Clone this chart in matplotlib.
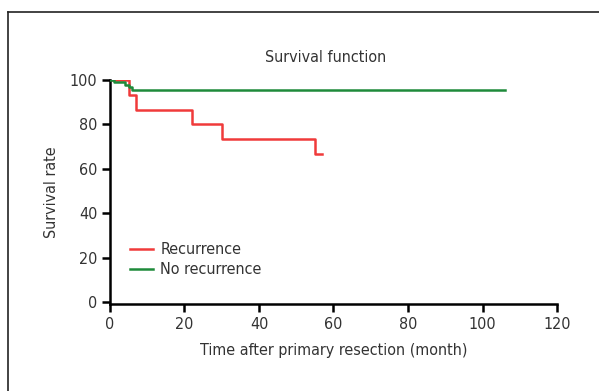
import matplotlib
matplotlib.use('Agg')
import matplotlib.pyplot as plt
from matplotlib.lines import Line2D

plt.rcParams['font.family'] = ['DejaVu Sans']
plt.rcParams['font.stretch'] = 'condensed'

# Kaplan-Meier style steps
rec_time = [0, 5, 7, 22, 30, 55, 57]
rec_surv = [100, 93.3, 86.7, 80, 73.3, 66.7, 66.7]
norec_time = [0, 1, 4, 5, 6, 106]
norec_surv = [100, 98.9, 97.8, 96.7, 95.6, 95.6]

x_ticks = [0, 20, 40, 60, 80, 100, 120]
y_ticks = [0, 20, 40, 60, 80, 100]

text_color = '#333333'

fig = plt.figure(figsize=(5.99, 3.91), dpi=100)
ax = fig.add_axes([0.1836, 0.2225, 0.7463, 0.5729])

ax.step(norec_time, norec_surv, where='post', color='#1e8a3a', lw=1.8,
        label='No recurrence', zorder=3)
ax.step(rec_time, rec_surv, where='post', color='#f03a3a', lw=1.8,
        label='Recurrence', zorder=2)

ax.set_xlim(0, 120)
ax.set_ylim(-0.8, 100)
ax.set_xticks(x_ticks)
ax.set_yticks(y_ticks)
ax.tick_params(width=1.8, length=6, labelsize=11.5, colors='black',
               labelcolor=text_color, pad=3)

for side in ['top', 'right']:
    ax.spines[side].set_visible(False)
for side in ['left', 'bottom']:
    ax.spines[side].set_linewidth(1.8)

ax.set_xlabel('Time after primary resection (month)', fontsize=11.5,
              color=text_color, labelpad=8)
ax.set_ylabel('Survival rate', fontsize=11.5, color=text_color, labelpad=8)
fig.text(326 / 599, 1 - 57 / 391, 'Survival function', fontsize=11.5,
         color=text_color, ha='center', va='center')

handles, labels = ax.get_legend_handles_labels()
ax.legend(handles[::-1], labels[::-1], loc='center left',
          bbox_to_anchor=(0.045, 0.197), frameon=False, fontsize=11.5,
          borderpad=0, borderaxespad=0,
          handlelength=1.45, handletextpad=0.45, labelspacing=0.3,
          labelcolor=text_color)

# outer frame lines (top and left edges of the original panel)
fig.add_artist(Line2D([8 / 599, 8 / 599], [0, 1 - 12 / 391],
                      transform=fig.transFigure, color='#222222', lw=1.2))
fig.add_artist(Line2D([8 / 599, 1], [1 - 12 / 391, 1 - 12 / 391],
                      transform=fig.transFigure, color='#222222', lw=1.2))

fig.savefig('out.png', dpi=100)
